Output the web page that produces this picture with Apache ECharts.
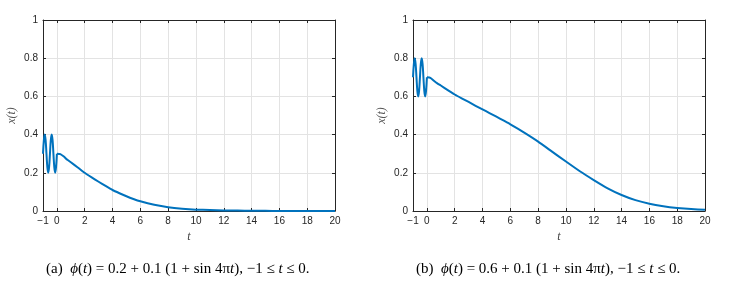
<!DOCTYPE html>
<html><head><meta charset="utf-8">
<script src="https://cdn.jsdelivr.net/npm/echarts@6/dist/echarts.min.js"></script>
<style>html,body{margin:0;padding:0;background:#fff}#c{width:743px;height:289px}</style>
</head><body><div id="c"></div>
<script>
// history segment t in [-1,0]
const tHist = [-1,-0.9375,-0.875,-0.8125,-0.75,-0.6875,-0.625,-0.5625,-0.5,-0.4375,-0.375,-0.3125,-0.25,-0.1875,-0.125,-0.0625,0];
const histA = [0.3,0.371,0.4,0.371,0.3,0.229,0.2,0.229,0.3,0.371,0.4,0.371,0.3,0.229,0.2,0.229,0.3];
const histB = [0.7,0.771,0.8,0.771,0.7,0.629,0.6,0.629,0.7,0.771,0.8,0.771,0.7,0.629,0.6,0.629,0.7];
// solution for t >= 0
const tSol = [0,0.25,0.5,0.75,1,1.5,2,2.5,3,3.5,4,4.5,5,5.5,6,7,8,9,10,11,12,13,14,15,16,17,18,19,20];
const solA = [0.3,0.298,0.285,0.268,0.255,0.228,0.2,0.176,0.153,0.131,0.11,0.093,0.077,0.063,0.051,0.033,0.02,0.012,0.007,0.005,0.003,0.002,0.001,0.0008,0.0005,0.0003,0.0002,0.0001,0.0001];
const solB = [0.7,0.697,0.682,0.668,0.657,0.633,0.61,0.59,0.571,0.551,0.532,0.513,0.494,0.474,0.454,0.41,0.363,0.311,0.259,0.208,0.162,0.119,0.084,0.057,0.038,0.025,0.016,0.01,0.006];
const xTicks = [-1,0,2,4,6,8,10,12,14,16,18,20];
const yTicks = [0,0.2,0.4,0.6,0.8,1];
const captionA = ['0.2'];
const captionB = ['0.6'];

function pairs(t, v){ return t.map((x,i)=>[x,v[i]]); }
const grids = [{left:43, top:20, width:292, height:191},{left:413, top:20, width:292, height:191}];
const axCol = '#262626';
const xAxes = [], yAxes = [], series = [];
[0,1].forEach(g=>{
  xAxes.push({type:'value', gridIndex:g, min:-1, max:20, position:'bottom',
    name:'t', nameLocation:'middle', nameGap:18,
    nameTextStyle:{fontFamily:'Liberation Serif', fontStyle:'italic', fontSize:12, color:'#404040'},
    axisLine:{show:true, onZero:false, lineStyle:{color:axCol, width:1}},
    axisTick:{show:true, inside:true, length:3, customValues:xTicks, lineStyle:{color:axCol}},
    axisLabel:{customValues:xTicks, margin:5, fontFamily:'Liberation Sans', fontSize:10, color:axCol,
      formatter:v=> v<0 ? '\u2212'+Math.abs(v) : String(v)},
    splitLine:{show:true, lineStyle:{color:'#e3e3e3', width:1}}});
  xAxes.push({type:'value', gridIndex:g, min:-1, max:20, position:'top',
    axisLine:{show:true, onZero:false, lineStyle:{color:axCol, width:1}},
    axisTick:{show:true, inside:true, length:3, customValues:xTicks, lineStyle:{color:axCol}},
    axisLabel:{show:false}, splitLine:{show:false}});
  yAxes.push({type:'value', gridIndex:g, min:0, max:1, interval:0.2, position:'left',
    name:'x(t)', nameLocation:'middle', nameGap:25, nameRotate:90,
    nameTextStyle:{fontFamily:'Liberation Serif', fontStyle:'italic', fontSize:12, color:'#555'},
    axisLine:{show:true, onZero:false, lineStyle:{color:axCol, width:1}},
    axisTick:{show:true, inside:true, length:3, lineStyle:{color:axCol}},
    axisLabel:{margin:5, fontFamily:'Liberation Sans', fontSize:10, color:axCol, formatter:v=>String(Math.round(v*10)/10)},
    splitLine:{show:true, lineStyle:{color:'#e3e3e3', width:1}}});
  yAxes.push({type:'value', gridIndex:g, min:0, max:1, interval:0.2, position:'right',
    axisLine:{show:true, onZero:false, lineStyle:{color:axCol, width:1}},
    axisTick:{show:true, inside:true, length:3, lineStyle:{color:axCol}},
    axisLabel:{show:false}, splitLine:{show:false}});
});
const hist = [histA, histB], sol = [solA, solB];
[0,1].forEach(g=>{
  series.push({type:'line', xAxisIndex:2*g, yAxisIndex:2*g, smooth:0.4, showSymbol:false,
    data:pairs(tHist, hist[g]), lineStyle:{color:'#0072BD', width:2}, z:5});
  series.push({type:'line', xAxisIndex:2*g, yAxisIndex:2*g, smooth:0.15, showSymbol:false,
    data:pairs(tSol, sol[g]), lineStyle:{color:'#0072BD', width:2, join:'round'}, z:5});
});
const serif = 'Liberation Serif';
function cap(label, c0){
  return {text:'{n|' + label + '  }{i|ϕ}{n|(}{i|t}{n|) = ' + c0 + ' + 0.1 (1 + sin 4π}{i|t}{n|), −1 ≤ }{i|t}{n| ≤ 0.}',
    rich:{n:{fontFamily:serif, fontSize:15, color:'#111'}, i:{fontFamily:serif, fontSize:15, fontStyle:'italic', color:'#111'}}};
}
const chart = echarts.init(document.getElementById('c'), null, {renderer:'canvas'});
chart.setOption({
  animation:false, backgroundColor:'#fff',
  grid:grids, xAxis:xAxes, yAxis:yAxes, series:series,
  graphic:[
    {type:'text', top:262, left:46, style:cap('(a)', captionA[0])},
    {type:'text', top:262, left:416, style:cap('(b)', captionB[0])}
  ]
});
</script></body></html>
